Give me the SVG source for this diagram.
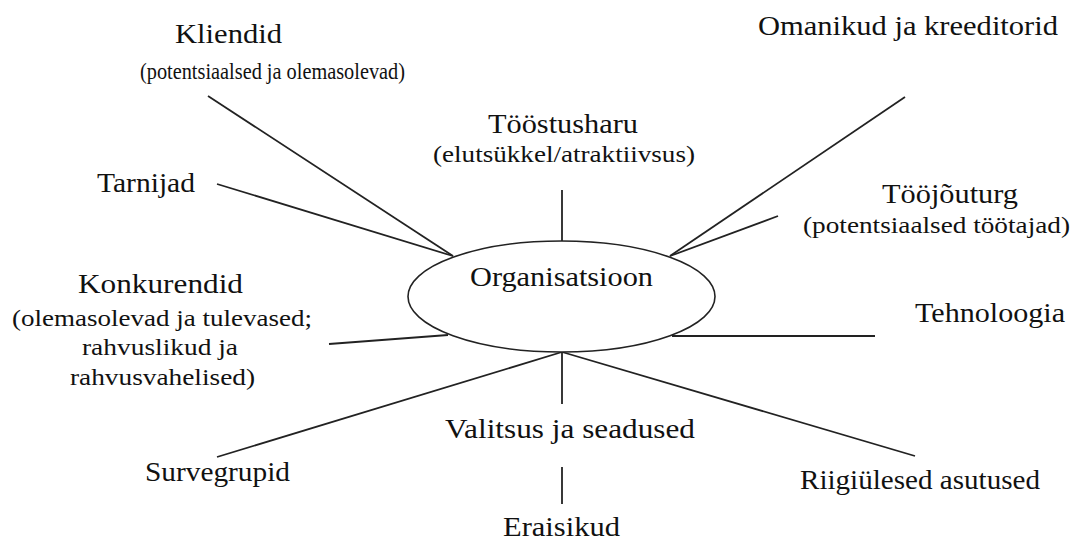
<svg xmlns="http://www.w3.org/2000/svg" width="1072" height="542" viewBox="0 0 1072 542">
  <style>
    .lbl { font-family: "Liberation Serif", "Times New Roman", serif; font-size: 28px; fill: #111; }
    .sub { font-family: "Liberation Serif", "Times New Roman", serif; font-size: 23px; fill: #111; }
    .link { stroke: #222; stroke-width: 1.8; fill: none; }
    .hub { stroke: #222; stroke-width: 1.6; fill: #fff; }
  </style>
  <rect width="1072" height="542" fill="#fff"/>

  <!-- spokes from the organisation to its environment -->
  <g id="connectors">
    <line class="link" x1="208" y1="96" x2="453" y2="256"/>
    <line class="link" x1="217" y1="184" x2="453" y2="256"/>
    <line class="link" x1="562" y1="190" x2="562" y2="241"/>
    <line class="link" x1="905" y1="97" x2="670" y2="256"/>
    <line class="link" x1="778" y1="216" x2="670" y2="256"/>
    <line class="link" x1="672" y1="336" x2="875" y2="336"/>
    <line class="link" x1="329" y1="344" x2="448" y2="335"/>
    <line class="link" x1="562" y1="352" x2="217" y2="457"/>
    <line class="link" x1="562" y1="352" x2="915" y2="456"/>
    <line class="link" x1="562" y1="352" x2="562" y2="404"/>
    <line class="link" x1="562" y1="467" x2="562" y2="504"/>
  </g>

  <g id="organisatsioon">
    <ellipse class="hub" cx="561.5" cy="296.5" rx="153.5" ry="55.5"/>
    <text class="lbl" x="470" y="286" textLength="183" lengthAdjust="spacingAndGlyphs">Organisatsioon</text>
  </g>

  <g id="kliendid">
    <text class="lbl" x="175" y="43" textLength="107" lengthAdjust="spacingAndGlyphs">Kliendid</text>
    <text class="sub" x="140" y="79" textLength="265" lengthAdjust="spacingAndGlyphs">(potentsiaalsed ja olemasolevad)</text>
  </g>

  <g id="tarnijad">
    <text class="lbl" x="97" y="192" textLength="98" lengthAdjust="spacingAndGlyphs">Tarnijad</text>
  </g>

  <g id="toostusharu">
    <text class="lbl" x="488" y="133" textLength="150" lengthAdjust="spacingAndGlyphs">Tööstusharu</text>
    <text class="sub" x="433" y="162" textLength="262" lengthAdjust="spacingAndGlyphs">(elutsükkel/atraktiivsus)</text>
  </g>

  <g id="omanikud">
    <text class="lbl" x="758" y="35" textLength="300" lengthAdjust="spacingAndGlyphs">Omanikud ja kreeditorid</text>
  </g>

  <g id="toojouturg">
    <text class="lbl" x="882" y="203" textLength="136" lengthAdjust="spacingAndGlyphs">Tööjõuturg</text>
    <text class="sub" x="803" y="233" textLength="267" lengthAdjust="spacingAndGlyphs">(potentsiaalsed töötajad)</text>
  </g>

  <g id="tehnoloogia">
    <text class="lbl" x="915" y="322" textLength="150" lengthAdjust="spacingAndGlyphs">Tehnoloogia</text>
  </g>

  <g id="konkurendid">
    <text class="lbl" x="78" y="293" textLength="165" lengthAdjust="spacingAndGlyphs">Konkurendid</text>
    <text class="sub" x="12" y="326" textLength="300" lengthAdjust="spacingAndGlyphs">(olemasolevad ja tulevased;</text>
    <text class="sub" x="82" y="355" textLength="156" lengthAdjust="spacingAndGlyphs">rahvuslikud ja</text>
    <text class="sub" x="70" y="385" textLength="185" lengthAdjust="spacingAndGlyphs">rahvusvahelised)</text>
  </g>

  <g id="valitsus">
    <text class="lbl" x="445" y="438" textLength="250" lengthAdjust="spacingAndGlyphs">Valitsus ja seadused</text>
  </g>

  <g id="survegrupid">
    <text class="lbl" x="145" y="481" textLength="145" lengthAdjust="spacingAndGlyphs">Survegrupid</text>
  </g>

  <g id="riigiulesed">
    <text class="lbl" x="800" y="489" textLength="240" lengthAdjust="spacingAndGlyphs">Riigiülesed asutused</text>
  </g>

  <g id="eraisikud">
    <text class="lbl" x="503" y="536" textLength="117" lengthAdjust="spacingAndGlyphs">Eraisikud</text>
  </g>
</svg>
